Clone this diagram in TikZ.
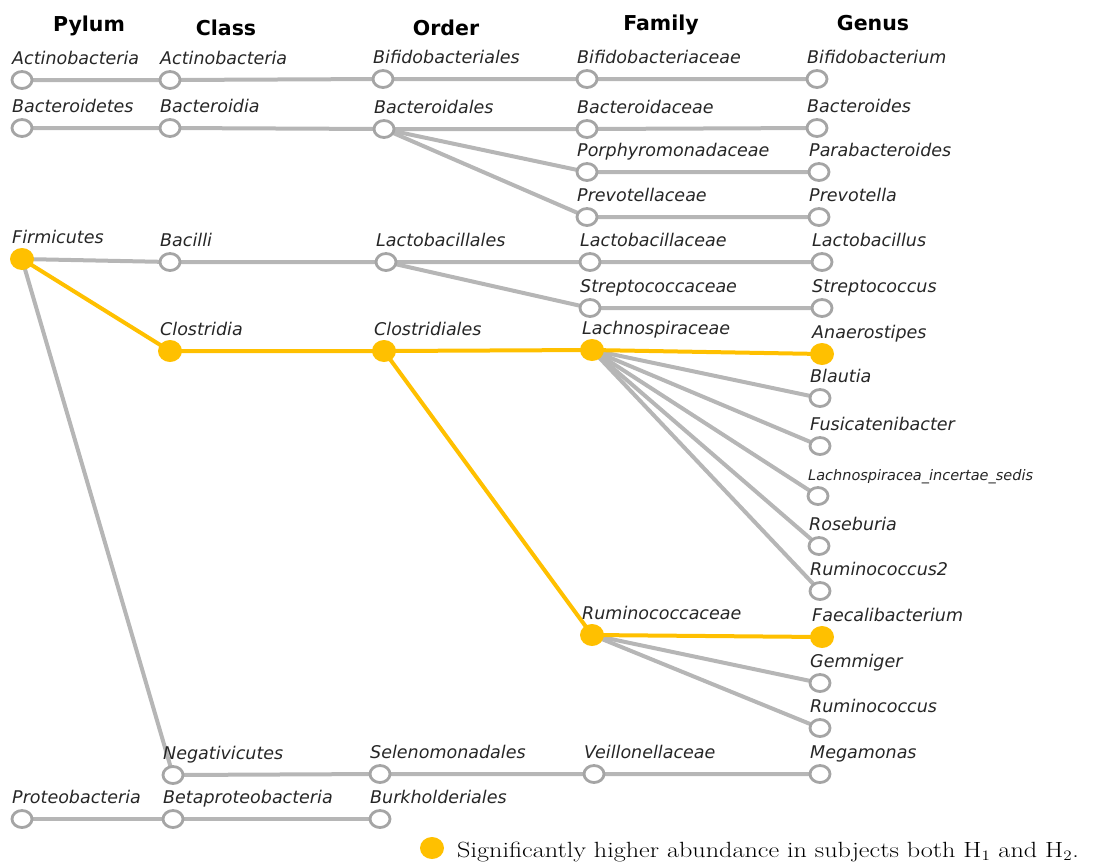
\documentclass[tikz,border=0pt]{standalone}
\usepackage{fontspec}
\newfontfamily\dejavu{DejaVu Sans}[ItalicFont={DejaVu Sans Oblique},BoldFont={DejaVu Sans Bold}]
\usetikzlibrary{shapes.geometric,backgrounds}
\definecolor{lgray}{RGB}{182,182,182}
\definecolor{cgray}{RGB}{165,165,165}
\definecolor{gold}{RGB}{255,192,0}
\tikzset{
 tx/.style={ellipse, draw=cgray, line width=2.8pt, fill=white, minimum width=20pt, minimum height=17pt, inner sep=0pt},
 sig/.style={ellipse, fill=gold, minimum width=24pt, minimum height=22pt, inner sep=0pt},
 lab/.style={anchor=base west, inner sep=0pt, font=\dejavu\itshape\fontsize{17.5}{20}\selectfont, text=black!85},
 hdr/.style={anchor=base, inner sep=0pt, font=\dejavu\bfseries\fontsize{20.5}{24}\selectfont},
 edge/.style={draw=lgray, line width=4pt},
 sedge/.style={draw=gold, line width=4pt},
}
\newcommand\taxnode[4]{\node[#1] (#2) at (#3) {};
  \node[lab] (#2l) at ([xshift=-10pt,yshift=16pt]#2.center) {#4};}
\begin{document}
\begin{tikzpicture}[x=1pt,y=-1pt]
\useasboundingbox (0,0) rectangle (1094,863);
% headers
\node[hdr] (hP) at (89,31) {Pylum};
\node[hdr] (hC) at (226,35) {Class};
\node[hdr] (hO) at (446,35) {Order};
\node[hdr] (hF) at (661,30) {Family};
\node[hdr] (hG) at (873,30) {Genus};
% Pylum
\taxnode{tx}{P1}{22,80}{Actinobacteria}
\taxnode{tx}{P2}{22,128}{Bacteroidetes}
\taxnode{sig}{P3}{22,259}{Firmicutes}
\taxnode{tx}{P4}{22,819}{Proteobacteria}
% Class
\taxnode{tx}{C1}{170,80}{Actinobacteria}
\taxnode{tx}{C2}{170,128}{Bacteroidia}
\taxnode{tx}{C3}{170,262}{Bacilli}
\taxnode{sig}{C4}{170,351}{Clostridia}
\taxnode{tx}{C5}{173,775}{Negativicutes}
\taxnode{tx}{C6}{173,819}{Betaproteobacteria}
% Order
\taxnode{tx}{O1}{383,79}{Bifidobacteriales}
\taxnode{tx}{O2}{384,129}{Bacteroidales}
\taxnode{tx}{O3}{386,262}{Lactobacillales}
\taxnode{sig}{O4}{384,351}{Clostridiales}
\taxnode{tx}{O5}{380,774}{Selenomonadales}
\taxnode{tx}{O6}{380,819}{Burkholderiales}
% Family
\taxnode{tx}{F1}{587,79}{Bifidobacteriaceae}
\taxnode{tx}{F2}{587,129}{Bacteroidaceae}
\taxnode{tx}{F3}{587,172}{Porphyromonadaceae}
\taxnode{tx}{F4}{587,217}{Prevotellaceae}
\taxnode{tx}{F5}{590,262}{Lactobacillaceae}
\taxnode{tx}{F6}{590,308}{Streptococcaceae}
\taxnode{sig}{F7}{592,350}{Lachnospiraceae}
\taxnode{sig}{F8}{592,635}{Ruminococcaceae}
\taxnode{tx}{F9}{594,774}{Veillonellaceae}
% Genus
\taxnode{tx}{G1}{817,79}{Bifidobacterium}
\taxnode{tx}{G2}{817,128}{Bacteroides}
\taxnode{tx}{G3}{819,172}{Parabacteroides}
\taxnode{tx}{G4}{819,217}{Prevotella}
\taxnode{tx}{G5}{822,262}{Lactobacillus}
\taxnode{tx}{G6}{822,308}{Streptococcus}
\taxnode{sig}{G7}{822,354}{Anaerostipes}
\taxnode{tx}{G8}{820,398}{Blautia}
\taxnode{tx}{G9}{820,446}{Fusicatenibacter}
\taxnode{tx}{G10}{818,496}{{\fontsize{14.5}{16}\selectfont Lachnospiracea\_incertae\_sedis}}
\taxnode{tx}{G11}{819,546}{Roseburia}
\taxnode{tx}{G12}{820,591}{Ruminococcus2}
\taxnode{sig}{G13}{822,637}{Faecalibacterium}
\taxnode{tx}{G14}{820,683}{Gemmiger}
\taxnode{tx}{G15}{820,728}{Ruminococcus}
\taxnode{tx}{G16}{820,774}{Megamonas}
% legend
\node[sig] (leg) at (432,848) {};
\node[anchor=base west, inner sep=0pt, font=\fontsize{22}{26}\selectfont] (legt) at (457,857) {\scalebox{1.19}[1]{Significantly higher abundance in subjects both H$_1$ and H$_2$.}};
% connectors
\begin{scope}[on background layer]
\draw[edge] (P1.center) -- (C1.center) -- (O1.center) -- (F1.center) -- (G1.center);
\draw[edge] (P2.center) -- (C2.center) -- (O2.center) -- (F2.center) -- (G2.center);
\draw[edge] (O2.center) -- (F3.center) -- (G3.center);
\draw[edge] (O2.center) -- (F4.center) -- (G4.center);
\draw[edge] (P3.center) -- (C3.center) -- (O3.center) -- (F5.center) -- (G5.center);
\draw[edge] (O3.center) -- (F6.center) -- (G6.center);
\draw[edge] (P3.center) -- (C5.center) -- (O5.center) -- (F9.center) -- (G16.center);
\draw[edge] (P4.center) -- (C6.center) -- (O6.center);
\foreach \g in {G8,G9,G10,G11,G12} \draw[edge] (F7.center) -- (\g.center);
\foreach \g in {G14,G15} \draw[edge] (F8.center) -- (\g.center);
\draw[sedge] (P3.center) -- (C4.center) -- (O4.center) -- (F7.center) -- (G7.center);
\draw[sedge] (O4.center) -- (F8.center) -- (G13.center);
\end{scope}
\end{tikzpicture}
\end{document}
